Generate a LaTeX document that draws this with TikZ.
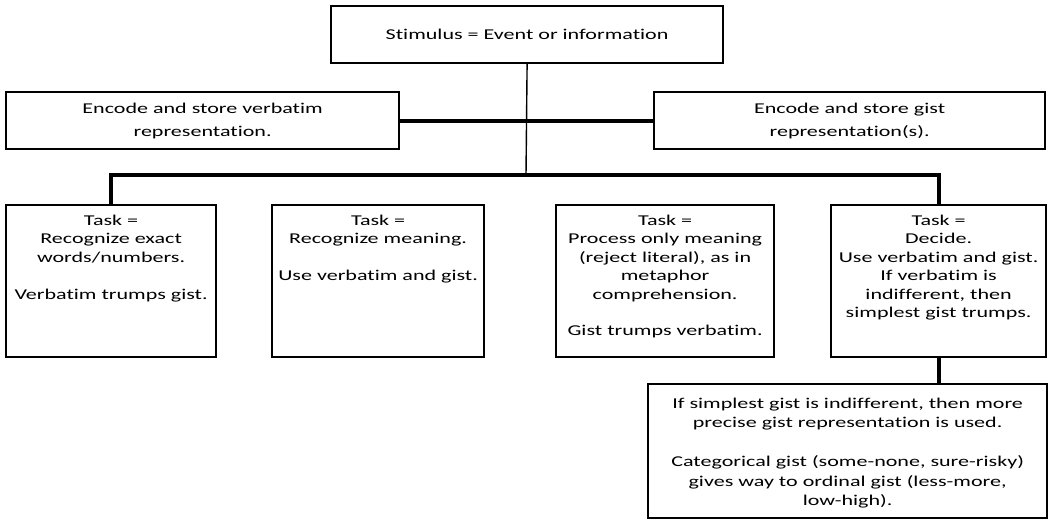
\documentclass[tikz,border=0pt]{standalone}
\usepackage{fontspec}
\setmainfont{Carlito}[FakeStretch=1.47, RawFeature={-liga;-clig;-dlig}]
\newcommand\tb[4]{\parbox[c][#2][t]{#1}{\vspace*{#3}\centering #4\par}}
\newcommand\TI{t\kern0pt i}
\newcommand\FF{f\kern0pt f}
\begin{document}
\begin{tikzpicture}[x=1pt,y=-1pt,
  box/.style={draw, line width=2.2pt, inner sep=0pt, anchor=north west},
  cbox/.style={box, align=center, font=\fontsize{15pt}{23pt}\selectfont},
  tbox/.style={box, font=\fontsize{15pt}{18.4pt}\selectfont},
  bbox/.style={box, font=\fontsize{15pt}{19.4pt}\selectfont},
  thinline/.style={line width=1.4pt},
  thickline/.style={line width=4pt}]
\useasboundingbox (0,0) rectangle (1049,521);
\node[cbox, minimum width=392pt, minimum height=57pt] (top) at (330,5) {Stimulus = Event or informa\TI on};
\node[cbox, minimum width=393pt, minimum height=57pt] (enc1) at (5,91) {Encode and store verba\TI m\\representa\TI on.};
\node[cbox, minimum width=391pt, minimum height=57pt] (enc2) at (653,91) {Encode and store gist\\representa\TI on(s).};
\node[tbox] (t1) at (5,204) {\tb{210pt}{152pt}{10pt}{Task =\\Recognize exact\\words/numbers.\\[\baselineskip]Verba\TI m trumps gist.}};
\node[tbox] (t2) at (271,204) {\tb{212pt}{152pt}{10pt}{Task =\\Recognize meaning.\\[\baselineskip]Use verba\TI m and gist.}};
\node[tbox] (t3) at (555,204) {\tb{218pt}{152pt}{10pt}{Task =\\Process only meaning\\(reject literal), as in\\metaphor\\comprehension.\\[\baselineskip]Gist trumps verba\TI m.}};
\node[tbox] (t4) at (830,204) {\tb{215pt}{152pt}{10pt}{Task =\\Decide.\\Use verba\TI m and gist.\\If verba\TI m is\\indi\FF erent, then\\simplest gist trumps.}};
\node[bbox] (b) at (647,383) {\tb{399pt}{134pt}{14pt}{If simplest gist is indi\FF erent, then more\\precise gist representa\TI on is used.\\[\baselineskip]Categorical gist (some-none, sure-risky)\\gives way to ordinal gist (less-more,\\low-high).}};
\coordinate (hub) at (526,175);
\draw[thinline] (top.south) -- (hub);
\draw[thickline] (enc1.east) -- (enc2.west);
\draw[thickline] (t1.north) -- (t1.north |- hub) -- (t4.north |- hub) -- (t4.north);
\draw[thickline] (t4.south) -- (t4.south |- b.north);
\end{tikzpicture}
\end{document}
